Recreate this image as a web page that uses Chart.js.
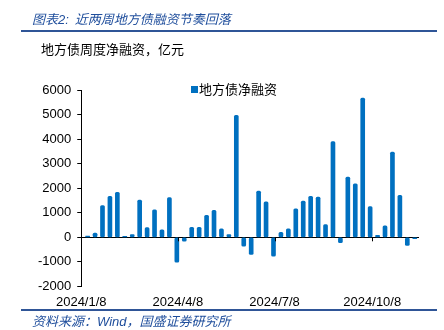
<!DOCTYPE html>
<html>
<head>
<meta charset="utf-8">
<script src="https://cdn.jsdelivr.net/npm/chart.js@4"></script>
<style>
  body { margin: 0; background: #fff; }
  #wrap { position: relative; width: 444px; height: 330px; overflow: hidden; font-family: "Liberation Sans", Arial, "Noto Sans CJK SC", sans-serif; }
  #chart { position: absolute; left: 0; top: 0; }
  .title { position: absolute; left: 32px; top: 9px; font-size: 13px; font-style: italic; color: #1f4e9c; white-space: pre; }
  .title span { margin-left: 6px; }
  .rule { position: absolute; left: 21px; width: 416px; background: #2f5597; }
  .sub { position: absolute; left: 41px; top: 39px; font-size: 13px; color: #000; }
  .src { position: absolute; left: 32px; top: 311px; font-size: 13px; font-style: italic; color: #1f4e9c; white-space: pre; }
  .legend { position: absolute; left: 191px; top: 79px; font-size: 13px; color: #000; }
  .legend i { display: inline-block; width: 7px; height: 7px; background: #0070C0; margin-right: 1px; vertical-align: 1px; }
</style>
</head>
<body>
<div id="wrap">
  <canvas id="chart" width="444" height="330"></canvas>
  <div class="title">图表2:<span>近两周地方债融资节奏回落</span></div>
  <div class="rule" style="top:30px;height:2px"></div>
  <div class="sub">地方债周度净融资，亿元</div>
  <div class="legend"><i></i>地方债净融资</div>
  <div class="rule" style="top:309px;height:1.5px"></div>
  <div class="src">资料来源：Wind，国盛证券研究所</div>
</div>
<script>
// weekly dates (week end)
const weeks = [
  '2024/1/14','2024/1/21','2024/1/28','2024/2/4','2024/2/11','2024/2/18','2024/2/25',
  '2024/3/3','2024/3/10','2024/3/17','2024/3/24','2024/3/31','2024/4/7','2024/4/14',
  '2024/4/21','2024/4/28','2024/5/5','2024/5/12','2024/5/19','2024/5/26','2024/6/2',
  '2024/6/9','2024/6/16','2024/6/23','2024/6/30','2024/7/7','2024/7/14','2024/7/21',
  '2024/7/28','2024/8/4','2024/8/11','2024/8/18','2024/8/25','2024/9/1','2024/9/8',
  '2024/9/15','2024/9/22','2024/9/29','2024/10/6','2024/10/13','2024/10/20','2024/10/27',
  '2024/11/3','2024/11/10','2024/11/17'
];
// 地方债净融资, 亿元
const netFinancing = [
  50, 170, 1290, 1670, 1835, 40, 110,
  1520, 400, 1120, 300, 1620, -1010, -160,
  410, 410, 900, 1100, 340, 110, 4970,
  -360, -700, 1880, 1440, -770, 205, 340,
  1160, 1480, 1670, 1640, 520, 3900, -220,
  2450, 2180, 5670, 1250, 80, 470, 3470,
  1710, -330, -60
];
const axisStart = '2024/1/8';
const axisEnd = '2024/11/21';
const tickDates = ['2024/1/8', '2024/4/8', '2024/7/8', '2024/10/8'];
const yTicks = [-2000, -1000, 0, 1000, 2000, 3000, 4000, 5000, 6000];

const DAY = 86400000;
function dayNum(s) {
  const p = s.split('/').map(Number);
  return Math.round((Date.UTC(p[0], p[1] - 1, p[2]) - Date.UTC(2024, 0, 8)) / DAY);
}
const points = weeks.map((w, i) => ({ x: dayNum(w), y: netFinancing[i] }));

// small tick marks on the zero line under each date label
const zeroTicks = {
  id: 'zeroTicks',
  afterDatasetsDraw(chart) {
    const c = chart.ctx, xs = chart.scales.x, y0 = chart.scales.y.getPixelForValue(0);
    c.save();
    c.strokeStyle = '#000';
    c.lineWidth = 1;
    xs.ticks.forEach(t => {
      const px = Math.round(xs.getPixelForValue(t.value)) + 0.5;
      c.beginPath();
      c.moveTo(px, y0);
      c.lineTo(px, y0 + 4);
      c.stroke();
    });
    c.restore();
  }
};

Chart.defaults.font.family = '"Liberation Sans", Arial, "Noto Sans CJK SC", sans-serif';
Chart.defaults.font.size = 13;
Chart.defaults.color = '#000';

new Chart(document.getElementById('chart'), {
  type: 'bar',
  data: {
    datasets: [{
      label: '地方债净融资',
      data: points,
      backgroundColor: '#0070C0',
      barThickness: 4,
      borderRadius: 1.5,
      borderSkipped: false
    }]
  },
  options: {
    responsive: false,
    animation: false,
    layout: { padding: { top: 90, left: 32, right: 25, bottom: 20 } },
    plugins: { legend: { display: false }, tooltip: { enabled: false } },
    scales: {
      x: {
        type: 'linear',
        min: dayNum(axisStart),
        max: dayNum(axisEnd),
        offset: false,
        afterBuildTicks(scale) {
          scale.ticks = tickDates.map(d => ({ value: dayNum(d) }));
        },
        ticks: {
          autoSkip: false,
          maxRotation: 0,
          padding: 0,
          callback(v) {
            const i = tickDates.findIndex(d => dayNum(d) === v);
            return i >= 0 ? tickDates[i] : '';
          }
        },
        grid: { display: false },
        border: { display: false }
      },
      y: {
        min: -2000,
        max: 6000,
        afterBuildTicks(scale) {
          scale.ticks = yTicks.map(v => ({ value: v }));
        },
        ticks: { padding: 6, callback: v => String(v) },
        grid: {
          color: ctx => ctx.tick && ctx.tick.value === 0 ? '#000' : 'rgba(0,0,0,0)',
          tickColor: '#000',
          tickLength: 4,
          lineWidth: 1
        },
        border: { display: true, color: '#000', width: 1 }
      }
    }
  },
  plugins: [zeroTicks]
});
</script>
</body>
</html>
